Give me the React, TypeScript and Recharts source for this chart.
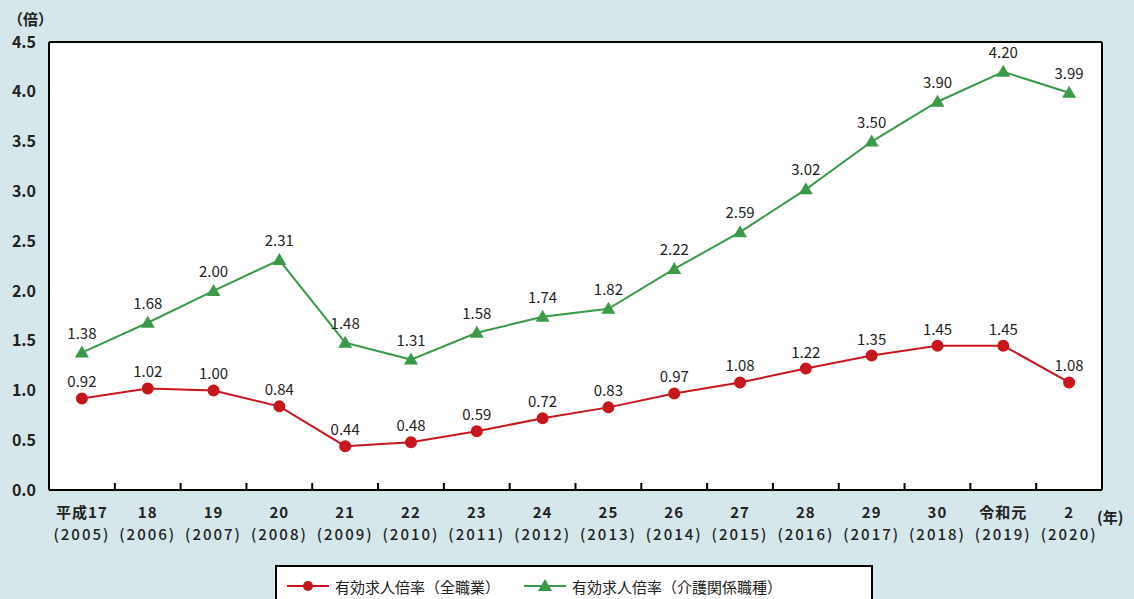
import { LineChart, Line, XAxis, YAxis, CartesianGrid, LabelList } from "recharts";

const categories = ["平成17", "18", "19", "20", "21", "22", "23", "24", "25", "26", "27", "28", "29", "30", "令和元", "2"];
const years = ["(2005)", "(2006)", "(2007)", "(2008)", "(2009)", "(2010)", "(2011)", "(2012)", "(2013)", "(2014)", "(2015)", "(2016)", "(2017)", "(2018)", "(2019)", "(2020)"];
const allJobs = [0.92, 1.02, 1.0, 0.84, 0.44, 0.48, 0.59, 0.72, 0.83, 0.97, 1.08, 1.22, 1.35, 1.45, 1.45, 1.08];
const careJobs = [1.38, 1.68, 2.0, 2.31, 1.48, 1.31, 1.58, 1.74, 1.82, 2.22, 2.59, 3.02, 3.5, 3.9, 4.2, 3.99];
const yTicks = [0, 0.5, 1, 1.5, 2, 2.5, 3, 3.5, 4, 4.5];

const seriesNames = ["有効求人倍率（全職業）", "有効求人倍率（介護関係職種）"];

const data = categories.map((c, i) => ({ label: c, year: years[i], all: allJobs[i], care: careJobs[i] }));

const W = 1134;
const H = 599;
const LEFT = 49;
const RIGHT = 32;
const BAND = (W - LEFT - RIGHT) / categories.length;
const FONT = "'Noto Sans CJK JP', 'Noto Sans', sans-serif";
const RED = "#c8161d";
const GREEN = "#3b9a4a";

function XTick(props: any) {
  const { x, y, index } = props;
  return (
    <g>
      {index < categories.length - 1 && (
        <line x1={x + BAND / 2} x2={x + BAND / 2} y1={y} y2={y - 7} stroke="#000" strokeWidth={2} />
      )}
      <text x={x} y={y + 28} textAnchor="middle" fontSize={15} fill="#222" fontFamily={FONT}>
        <tspan x={x} fontWeight={700} letterSpacing={1}>{categories[index]}</tspan>
        <tspan x={x} dy={22} fontWeight={500} letterSpacing={2}>{years[index]}</tspan>
      </text>
    </g>
  );
}

function Triangle(props: any) {
  const { cx, cy } = props;
  if (cx == null || cy == null) return null;
  return <polygon points={`${cx},${cy - 7} ${cx - 7},${cy + 5} ${cx + 7},${cy + 5}`} fill={GREEN} />;
}

const labelStyle = { fontSize: 15, fill: "#222", fontFamily: FONT };

export default function App() {
  return (
    <div style={{ position: "absolute", left: 0, top: 0, width: W, height: H, background: "#d5e7eb", overflow: "hidden", fontFamily: FONT }}>
      <div style={{ position: "absolute", left: 8, top: 8, fontSize: 15, fontWeight: 700, color: "#222" }}>（倍）</div>
      <div style={{ position: "absolute", left: 1097, top: 506, fontSize: 15, fontWeight: 700, color: "#222" }}>(年)</div>
      <LineChart width={W} height={H} data={data} margin={{ top: 42, right: 0, left: 0, bottom: 0 }}>
        <CartesianGrid vertical={false} stroke="#000" strokeWidth={2} fill="#fff" fillOpacity={1} />
        <XAxis
          dataKey="label"
          height={109}
          interval={0}
          padding={{ left: BAND / 2, right: BAND / 2 }}
          tickSize={0}
          tickMargin={0}
          axisLine={{ stroke: "#000", strokeWidth: 2 }}
          tickLine={false}
          tick={<XTick />}
        />
        <YAxis
          yAxisId="left"
          width={LEFT}
          domain={[0, 4.5]}
          ticks={yTicks}
          tickFormatter={(v: number) => v.toFixed(1)}
          tickSize={0}
          tickMargin={13}
          axisLine={{ stroke: "#000", strokeWidth: 2 }}
          tickLine={false}
          tick={{ fontSize: 16, fontWeight: 700, fill: "#222", fontFamily: FONT }}
        />
        <YAxis
          yAxisId="right"
          orientation="right"
          width={RIGHT}
          domain={[0, 4.5]}
          tick={false}
          tickLine={false}
          axisLine={{ stroke: "#000", strokeWidth: 2 }}
        />
        <Line
          yAxisId="left"
          dataKey="all"
          name={seriesNames[0]}
          stroke={RED}
          strokeWidth={2}
          dot={{ r: 5, fill: RED, stroke: RED }}
          isAnimationActive={false}
        >
          <LabelList dataKey="all" position="top" offset={11} formatter={(v: any) => Number(v).toFixed(2)} style={labelStyle} />
        </Line>
        <Line
          yAxisId="left"
          dataKey="care"
          name={seriesNames[1]}
          stroke={GREEN}
          strokeWidth={2}
          dot={<Triangle />}
          isAnimationActive={false}
        >
          <LabelList dataKey="care" position="top" offset={14} formatter={(v: any) => Number(v).toFixed(2)} style={labelStyle} />
        </Line>
      </LineChart>
      <div
        style={{
          position: "absolute",
          left: 275,
          top: 565,
          width: 598,
          height: 50,
          background: "#fff",
          border: "2px solid #000",
          boxSizing: "border-box",
          display: "flex",
          alignItems: "flex-start",
          paddingTop: 9,
          paddingLeft: 10,
          fontSize: 15,
          color: "#222",
        }}
      >
        <svg width={44} height={20}>
          <line x1={0} x2={42} y1={10} y2={10} stroke={RED} strokeWidth={2} />
          <circle cx={21} cy={10} r={5} fill={RED} />
        </svg>
        <span style={{ marginLeft: 4, marginRight: 24 }}>{seriesNames[0]}</span>
        <svg width={44} height={20}>
          <line x1={0} x2={42} y1={10} y2={10} stroke={GREEN} strokeWidth={2} />
          <polygon points="21,3 14,15 28,15" fill={GREEN} />
        </svg>
        <span style={{ marginLeft: 4 }}>{seriesNames[1]}</span>
      </div>
    </div>
  );
}
